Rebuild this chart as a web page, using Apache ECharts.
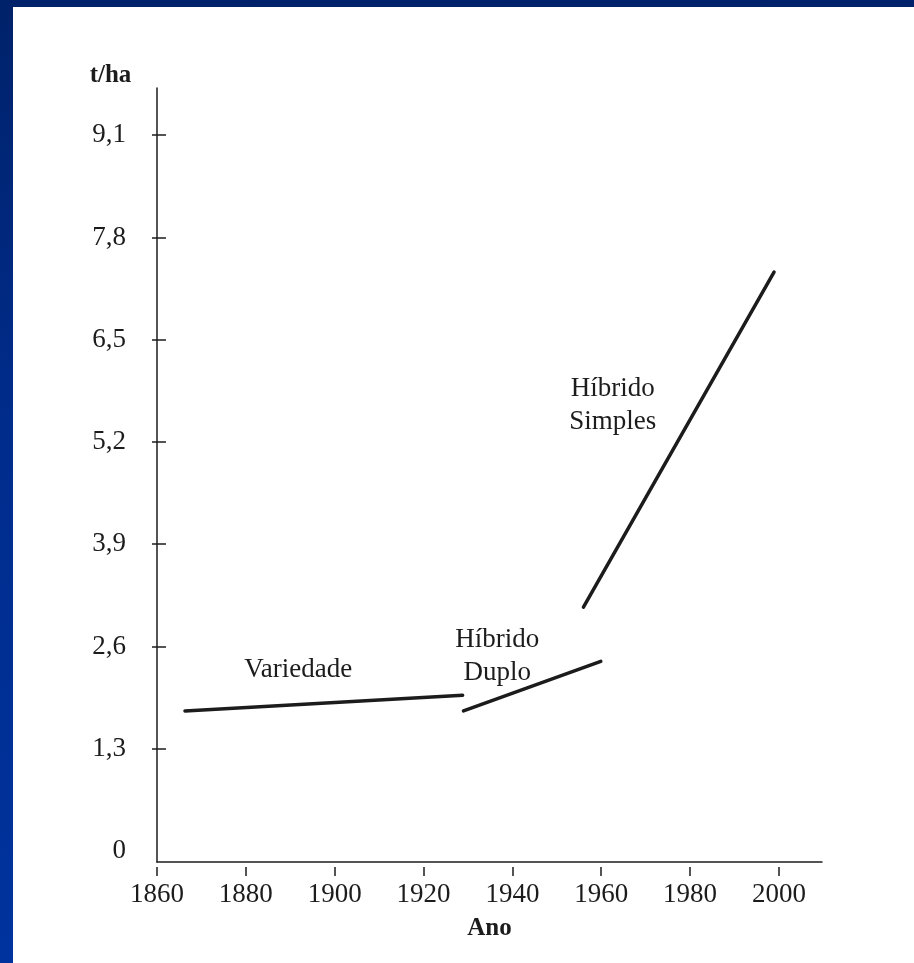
<!DOCTYPE html>
<html>
<head>
<meta charset="utf-8">
<script src="https://cdn.jsdelivr.net/npm/echarts@6/dist/echarts.min.js"></script>
<style>
html, body { margin:0; padding:0; width:914px; height:963px; overflow:hidden;
  background: linear-gradient(to bottom, #00226a 0%, #002c8c 45%, #00339e 100%); }
#chart { position:absolute; left:13px; top:7px; width:901px; height:956px; background:#fff; }
</style>
</head>
<body>
<div id="chart"></div>
<script>
// rendimento do milho (t/ha) por periodo
var yTicks = [1.3, 2.6, 3.9, 5.2, 6.5, 7.8, 9.1];
var yLabels = [0, 1.3, 2.6, 3.9, 5.2, 6.5, 7.8, 9.1];
var xYears = [1860, 1880, 1900, 1920, 1940, 1960, 1980, 2000];

var variedade = [[1866.3, 1.78], [1928.8, 1.98]];
var hibridoDuplo = [[1929.0, 1.78], [1959.9, 2.41]];
var hibridoSimples = [[1956.0, 3.10], [1998.9, 7.36]];

var notas = [
	{ texto: 'Variedade', pos: [1891.8, 2.30] },
	{ texto: 'Híbrido\nDuplo', pos: [1936.6, 2.48] },
	{ texto: 'Híbrido\nSimples', pos: [1962.6, 5.67] }
];

var fonte = '"Liberation Serif", "DejaVu Serif", serif';
var tinta = '#1c1c1c';

var dom = document.getElementById('chart');
var myChart = echarts.init(dom);

function fmt(v) {
	return String(v).replace('.', ',');
}

function linha(dados) {
	return {
		type : 'line',
		data : dados,
		showSymbol : false,
		symbol : 'none',
		silent : true,
		lineStyle : { color : tinta, width : 3.5, cap : 'round' },
		z : 3
	};
}

option = {
	animation : false,
	backgroundColor : '#fff',
	grid : {
		left : 144,
		right : 92,
		top : 81,
		bottom : 101,
		outerBoundsMode : 'none'
	},
	xAxis : [ {
		type : 'value',
		min : 1860,
		max : 2009.7,
		name : 'Ano',
		nameLocation : 'middle',
		nameGap : 54,
		nameTextStyle : { fontFamily : fonte, fontWeight : 'bold', fontSize : 25, color : tinta },
		axisLine : { onZero : false, lineStyle : { color : tinta, width : 1.5 } },
		axisTick : { show : false },
		splitLine : { show : false },
		axisLabel : {
			customValues : xYears,
			margin : 19,
			fontFamily : fonte,
			fontSize : 27,
			color : tinta,
			formatter : function (v) { return String(v); }
		}
	}, {
		type : 'value',
		min : 1860,
		max : 2009.7,
		position : 'bottom',
		offset : 5,
		axisLine : { show : false, onZero : false },
		axisLabel : { show : false },
		splitLine : { show : false },
		axisTick : {
			show : true,
			customValues : xYears,
			length : 9,
			lineStyle : { color : tinta, width : 1.5 }
		}
	} ],
	yAxis : [ {
		type : 'value',
		min : -0.14,
		max : 9.7,
		name : 't/ha',
		nameLocation : 'end',
		nameGap : 0,
		nameTextStyle : { fontFamily : fonte, fontWeight : 'bold', fontSize : 25, color : tinta, align : 'center', padding : [0, 93, 0, 0] },
		axisLine : { show : true, lineStyle : { color : tinta, width : 1.5 } },
		splitLine : { show : false },
		axisTick : {
			show : true,
			customValues : yTicks,
			length : 5,
			lineStyle : { color : tinta, width : 1.5 }
		},
		axisLabel : {
			customValues : yLabels,
			margin : 31,
			fontFamily : fonte,
			fontSize : 27,
			color : tinta,
			formatter : function (v) { return fmt(v); }
		}
	}, {
		type : 'value',
		min : -0.14,
		max : 9.7,
		position : 'left',
		axisLine : { show : false },
		axisLabel : { show : false },
		splitLine : { show : false },
		axisTick : {
			show : true,
			inside : true,
			customValues : yTicks,
			length : 9,
			lineStyle : { color : tinta, width : 1.5 }
		}
	} ],
	series : [
		linha(variedade),
		linha(hibridoDuplo),
		linha(hibridoSimples),
		{
			type : 'scatter',
			symbolSize : 0,
			silent : true,
			itemStyle : { opacity : 1 },
			data : notas.map(function (n) { return { value : n.pos, name : n.texto }; }),
			label : {
				show : true,
				position : 'inside',
				formatter : '{b}',
				fontFamily : fonte,
				fontSize : 27,
				lineHeight : 33,
				color : tinta,
				opacity : 1,
				align : 'center',
				verticalAlign : 'middle'
			}
		}
	]
};

myChart.setOption(option, true);
</script>
</body>
</html>
